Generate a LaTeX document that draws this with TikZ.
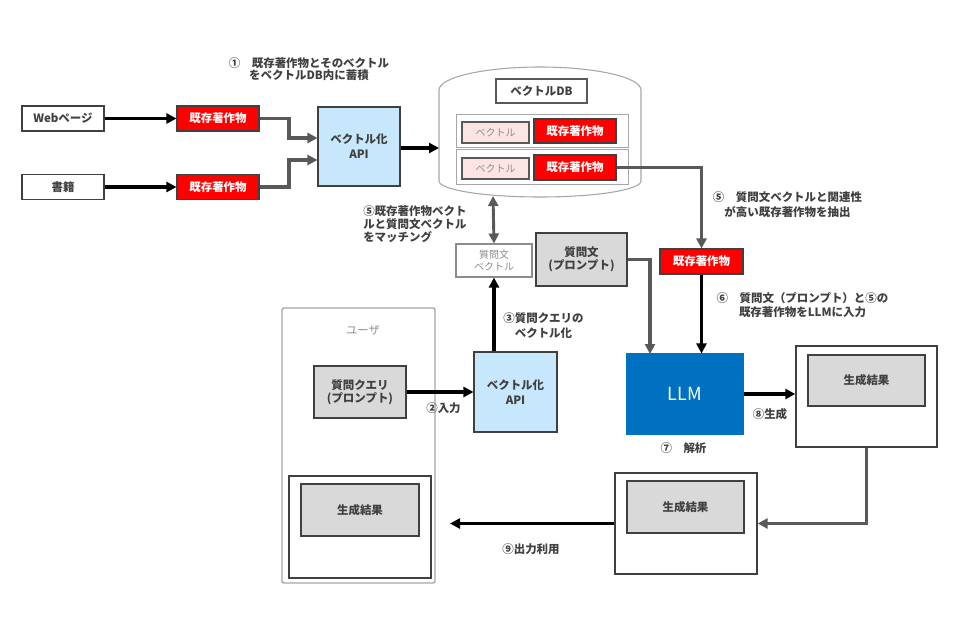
\documentclass[tikz,border=0pt]{standalone}
\usepackage{fontspec}
\setmainfont{Noto Sans CJK JP}
\usetikzlibrary{arrows.meta}
\usetikzlibrary{positioning}

\definecolor{txtgray}{HTML}{404040}
\definecolor{softgray}{HTML}{8C8C8C}
\definecolor{linegray}{HTML}{595959}
\definecolor{paleline}{HTML}{A6A6A6}
\definecolor{workred}{HTML}{FF0000}
\definecolor{apiblue}{RGB}{198,231,252}
\definecolor{promptgray}{HTML}{D9D9D9}
\definecolor{vecpink}{RGB}{252,228,228}
\definecolor{llmblue}{HTML}{0070C0}

\newcommand\boxfont{\fontsize{8.6pt}{9.5pt}\selectfont\bfseries}
\newcommand\notefont{\fontsize{8.6pt}{11pt}\selectfont\bfseries}
\newcommand\vecfont{\fontsize{7.5pt}{9pt}\selectfont}

\tikzset {
  % size of a box, given in pixels of the sheet
  dims/.style 2 args = {
    minimum width = #1*0.75pt,
    minimum height = #2*0.75pt
  },
  base box/.style = {
    draw = txtgray,
    line width = 0.8pt,
    inner sep = 0,
    align = center,
    font = \boxfont,
    text = txtgray
  },
  % input source
  srcbox/.style = {
    base box,
    fill = white
  },
  % copyrighted work
  workbox/.style = {
    base box,
    fill = workred,
    text = white
  },
  % vectorising api
  apibox/.style = {
    base box,
    fill = apiblue
  },
  % prompt and result
  graybox/.style = {
    base box,
    fill = promptgray
  },
  % stored vector
  vecbox/.style = {
    base box,
    draw = linegray,
    fill = vecpink,
    font = \vecfont,
    text = softgray
  },
  titlebox/.style = {
    base box,
    draw = linegray,
    line width = 1pt,
    fill = white
  },
  rowbox/.style = {
    draw = paleline,
    line width = 0.6pt,
    fill = white,
    inner sep = 0
  },
  % frame round a result
  frame/.style = {
    draw = txtgray,
    line width = 1pt,
    fill = white,
    inner sep = 0
  },
  note/.style = {
    font = \notefont,
    text = txtgray,
    align = center,
    inner sep = 0
  }
}
\tikzset {
  tip/.style = {
    -{Triangle[length=7.5pt, width=7.5pt]}
  },
  % black arrow
  barr/.style = {
    draw = black,
    line width = 2.4pt,
    tip
  },
  % gray arrow
  garr/.style = {
    draw = linegray,
    line width = 2.6pt,
    tip
  }
}

\begin{document}
\begin{tikzpicture}[x=0.75pt, y=-0.75pt]
  \useasboundingbox (0,0) rectangle (960,640);

  % sources and vectorising
  \node[srcbox, dims={82}{25}] (web) at (63,118.5) {Webページ};
  \node[srcbox, dims={82}{25}] (book) at (63,187) {書籍};
  \node[workbox, dims={82}{25}] (work-web) at (218,118.5) {既存著作物};
  \node[workbox, dims={82}{25}] (work-book) at (218,187) {既存著作物};
  \node[apibox, dims={82}{79}, font=\fontsize{8.6pt}{11.25pt}\selectfont\bfseries] (api-db) at (359,146.5) {ベクトル化\\API};
  \coordinate (join-web) at (289,138);
  \coordinate (join-book) at (289,160);

  % vector database
  \draw[draw=paleline, line width=0.8pt, fill=white]
    (439,181) -- (439,90)
    arc[start angle=180, end angle=0, x radius=75.75pt, y radius=17.25pt]
    -- (641,181)
    arc[start angle=0, end angle=-180, x radius=75.75pt, y radius=12pt]
    -- cycle;
  \coordinate (db-west) at (439,148);
  \coordinate (db-south) at (493,196);
  \node[titlebox, dims={91}{24}] (db-title) at (541.5,91) {ベクトルDB};
  \node[rowbox, dims={172}{33}] (row-a) at (542,130.5) {};
  \node[vecbox, dims={67}{21}] (vec-a) at (495.5,132.5) {ベクトル};
  \node[workbox, dims={82}{24}] (work-a) at (575,131) {既存著作物};
  \node[rowbox, dims={172}{35}] (row-b) at (542,166.5) {};
  \node[vecbox, dims={67}{21}] (vec-b) at (495.5,168.5) {ベクトル};
  \node[workbox, dims={82}{25}] (work-b) at (575,167.5) {既存著作物};

  % query side
  \node[vecbox, fill=white, draw=softgray, dims={76}{33}] (query-vec) at (494,260.5) {質問文\\ベクトル};
  \node[graybox, dims={91}{53}] (prompt) at (581.5,259.5) {質問文\\(プロンプト)};
  \node[workbox, dims={83}{25}] (work-hit) at (701.5,261.5) {既存著作物};

  \draw[draw=paleline, line width=1.1pt, rounded corners=1.5pt] (282,308) rectangle (435,583);
  \node[font=\fontsize{8.5pt}{10pt}\selectfont, text=softgray] (user) at (363,330) {ユーザ};
  \node[graybox, dims={92}{52}, font=\fontsize{8.6pt}{10pt}\selectfont\bfseries] (query) at (360,392) {質問クエリ\\(プロンプト)};
  \node[apibox, dims={83}{80}, font=\fontsize{8.6pt}{11.25pt}\selectfont\bfseries] (api-query) at (515.5,392) {ベクトル化\\API};

  % model and results
  \node[base box, draw=llmblue, fill=llmblue, text=white, font=\fontsize{13.5pt}{15pt}\selectfont, dims={116}{80}] (llm) at (685,394) {LLM};
  \coordinate (llm-in) at (650,354);
  \node[frame, dims={141}{101}] (result-new) at (866.5,396.5) {};
  \node[graybox, dims={117}{51}] (result-new-in) at (866.5,380.5) {生成結果};
  \node[frame, dims={142}{101}] (result-mid) at (686,523.5) {};
  \node[graybox, dims={117}{52}] (result-mid-in) at (685.5,507) {生成結果};
  \node[frame, dims={142}{102}] (result-user) at (360,527) {};
  \node[graybox, dims={118}{52}] (result-user-in) at (360,510) {生成結果};
  \coordinate (out-end) at (450,524);

  % connectors
  \draw[barr] (web) -- (work-web);
  \draw[barr] (book) -- (work-book);
  \draw[garr] (work-web.east) -| (join-web) -- (join-web -| api-db.west);
  \draw[garr] (work-book.east) -| (join-book) -- (join-book -| api-db.west);
  \draw[barr] (api-db.east |- db-west) -- (db-west);
  \draw[garr] (work-b.east) -| (work-hit.north);
  \draw[garr, {Triangle[length=7.5pt, width=7.5pt]}-{Triangle[length=7.5pt, width=7.5pt]}, line width=2.2pt] (query-vec.north) -- (db-south);
  \draw[barr] (api-query.north -| query-vec.south) -- (query-vec.south);
  \draw[barr] (query.east) -- (query.east -| api-query.west);
  \draw[garr] (prompt.east) -| (llm-in);
  \draw[barr] (work-hit.south) -- (work-hit.south |- llm.north);
  \draw[barr] (llm.east) -- (llm.east -| result-new.west);
  \draw[garr] (result-new.south) |- (result-mid.east);
  \draw[barr] (result-mid.west) -- (result-mid.west -| out-end);

  % step notes
  \node[note, font=\fontsize{8.6pt}{9pt}\selectfont\bfseries] (note-store) at (309,69) {①　既存著作物とそのベクトル\\をベクトルDB内に蓄積};
  \node[note, align=left, font=\fontsize{8.6pt}{9.75pt}\selectfont\bfseries, anchor=west] (note-match) at (363,224) {⑤既存著作物ベクト\\ルと質問文ベクトル\\をマッチング};
  \node[note] (note-embed) at (543.5,325.5) {③質問クエリの\\ベクトル化};
  \node[note] (note-pick) at (787.5,204.5) {⑤　質問文ベクトルと関連性\\が高い既存著作物を抽出};
  \node[note, font=\fontsize{8.6pt}{10.5pt}\selectfont\bfseries] (note-feed) at (802.5,305) {⑥　質問文（プロンプト）と⑤の\\既存著作物をLLMに入力};
  \node[note] (note-input) at (443.5,408) {②入力};
  \node[note] (note-gen) at (770,414) {⑧生成};
  \node[note] (note-parse) at (683.5,448) {⑦　解析};
  \node[note] (note-use) at (531,549) {⑨出力利用};
\end{tikzpicture}
\end{document}
